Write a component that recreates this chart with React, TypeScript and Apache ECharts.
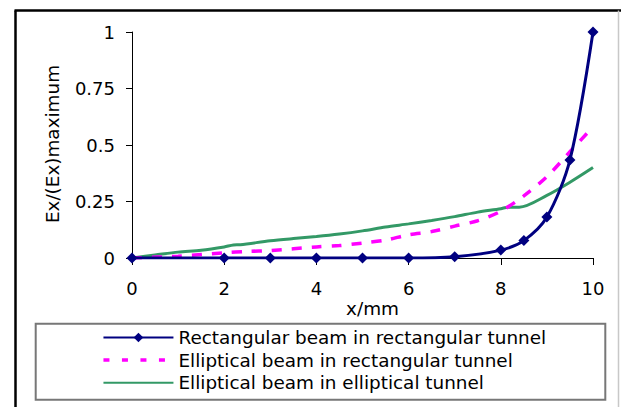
import React, { useEffect, useRef } from "react";
import * as echarts from "echarts";

// ---- data ----
const xTicks = [0, 2, 4, 6, 8, 10];
const yTicks = [0, 0.25, 0.5, 0.75, 1];

const seriesNames = [
  "Rectangular beam in rectangular tunnel",
  "Elliptical beam in rectangular tunnel",
  "Elliptical beam in elliptical tunnel",
];

const rectRectX = [0, 2, 3, 4, 5, 6, 7, 8, 8.5, 9, 9.5, 10];
const rectRectY = [0, 0, 0, 0, 0, 0, 0.006, 0.035, 0.077, 0.181, 0.434, 1.0];

const ellRectX = [0, 1, 2, 2.5, 3, 4, 4.5, 5, 5.5, 6, 6.5, 7, 7.5, 8, 8.5, 9, 9.5, 10];
const ellRectY = [0, 0.008, 0.023, 0.029, 0.033, 0.049, 0.055, 0.066, 0.079, 0.103, 0.117, 0.141, 0.165, 0.207, 0.275, 0.36, 0.47, 0.58];

const ellEllX = [0, 0.5, 1, 1.5, 2, 2.2, 2.35, 3, 3.5, 4, 4.5, 5, 5.5, 6, 6.5, 7, 7.5, 8, 8.15, 8.4, 9, 9.5, 10];
const ellEllY = [0, 0.013, 0.026, 0.034, 0.049, 0.058, 0.059, 0.076, 0.086, 0.095, 0.106, 0.12, 0.137, 0.151, 0.166, 0.183, 0.203, 0.218, 0.225, 0.225, 0.277, 0.335, 0.4];

const zip = (xs: number[], ys: number[]) => xs.map((x, i) => [x, ys[i]]);

const FONT = '"DejaVu Sans", "Liberation Sans", Arial, sans-serif';

export default function App() {
  const ref = useRef<HTMLDivElement>(null);

  useEffect(() => {
    if (!ref.current) return;
    const chart = echarts.init(ref.current, null, { renderer: "svg" });
    chart.setOption({
      animation: false,
      backgroundColor: "#ffffff",
      grid: { left: 132, right: 28, top: 32, bottom: 149, containLabel: false },
      xAxis: {
        type: "value",
        min: xTicks[0],
        max: xTicks[xTicks.length - 1],
        interval: 2,
        axisLine: { show: true, lineStyle: { color: "#000", width: 1 } },
        axisTick: { show: true, inside: false, length: 7, lineStyle: { color: "#000" } },
        axisLabel: { margin: 21, color: "#000", fontSize: 18, fontFamily: FONT },
        splitLine: { show: false },
      },
      yAxis: {
        type: "value",
        min: yTicks[0],
        max: yTicks[yTicks.length - 1],
        interval: 0.25,
        axisLine: { show: true, lineStyle: { color: "#000", width: 1 } },
        axisTick: { show: true, inside: false, length: 6, lineStyle: { color: "#000" } },
        axisLabel: { margin: 17, color: "#000", fontSize: 18, fontFamily: FONT },
        splitLine: { show: false },
      },
      legend: {
        orient: "vertical",
        left: 101.7,
        top: 328.5,
        itemWidth: 70,
        itemHeight: 12,
        itemGap: 4.6,
        padding: 0,
        textStyle: { fontSize: 18.4, fontFamily: FONT, color: "#000" },
        data: [
          { name: seriesNames[0] },
          { name: seriesNames[1], itemStyle: { opacity: 0 }, lineStyle: { type: [6, 12.5], width: 3.5 } },
          { name: seriesNames[2], itemStyle: { opacity: 0 } },
        ],
      },
      graphic: [
        {
          type: "line",
          shape: { x1: 15.5, y1: 10.5, x2: 15.5, y2: 420 },
          style: { stroke: "#000", lineWidth: 2.5 },
          silent: true,
        },
        {
          type: "line",
          shape: { x1: 14.5, y1: 10.5, x2: 621, y2: 10.5 },
          style: { stroke: "#000", lineWidth: 2.5 },
          silent: true,
        },
        {
          type: "line",
          shape: { x1: 618.5, y1: 10.5, x2: 618.5, y2: 420 },
          style: { stroke: "#c8c8c8", lineWidth: 1.5 },
          silent: true,
        },
        {
          type: "rect",
          shape: { x: 35.7, y: 323.7, width: 569.6, height: 76 },
          style: { fill: "none", stroke: "#777", lineWidth: 2 },
          silent: true,
          z: -1,
        },
        {
          type: "text",
          x: 52,
          y: 144,
          rotation: Math.PI / 2,
          style: {
            text: "Ex/(Ex)maximum",
            fontSize: 18.4,
            fontFamily: FONT,
            fill: "#000",
            align: "center",
            verticalAlign: "middle",
            textAlign: "center",
            textVerticalAlign: "middle",
          },
        },
        {
          type: "text",
          x: 372.5,
          y: 308,
          style: {
            text: "x/mm",
            fontSize: 18.4,
            fontFamily: FONT,
            fill: "#000",
            align: "center",
            verticalAlign: "middle",
            textAlign: "center",
            textVerticalAlign: "middle",
          },
        },
      ],
      series: [
        {
          name: seriesNames[0],
          type: "line",
          data: zip(rectRectX, rectRectY),
          smooth: 0.3,
          symbol: "diamond",
          symbolSize: 11,
          showSymbol: true,
          itemStyle: { color: "#000080" },
          lineStyle: { color: "#000080", width: 3 },
          z: 4,
        },
        {
          name: seriesNames[1],
          type: "line",
          data: zip(ellRectX, ellRectY),
          smooth: 0.3,
          symbol: "none",
          itemStyle: { color: "#ff00ff" },
          lineStyle: { color: "#ff00ff", width: 3.5, type: [10, 10] },
          z: 3,
        },
        {
          name: seriesNames[2],
          type: "line",
          data: zip(ellEllX, ellEllY),
          smooth: 0.3,
          symbol: "none",
          itemStyle: { color: "#339966" },
          lineStyle: { color: "#339966", width: 3 },
          z: 2,
        },
      ],
    });
    return () => chart.dispose();
  }, []);

  return (
    <div
      ref={ref}
      style={{ position: "fixed", left: 0, top: 0, width: 621, height: 407, background: "#fff" }}
    />
  );
}
